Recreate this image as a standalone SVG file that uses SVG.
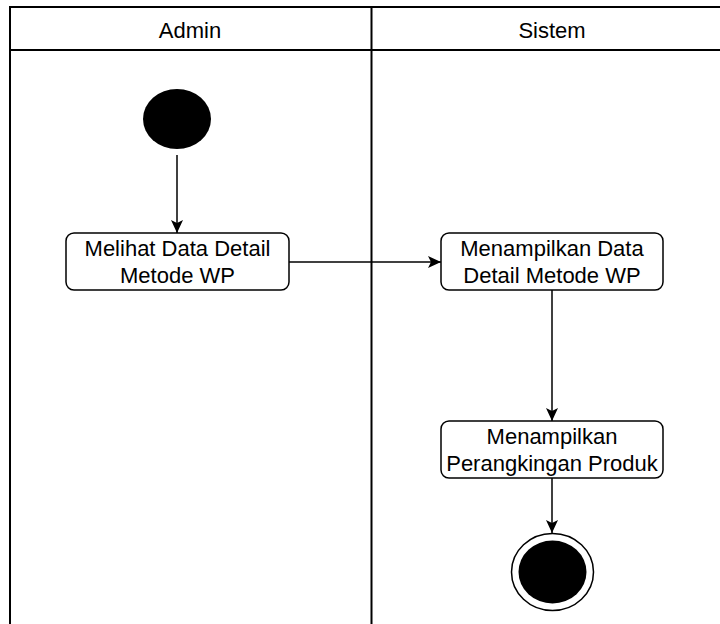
<svg xmlns="http://www.w3.org/2000/svg" width="720" height="624" viewBox="0 0 720 624">
  <style>
    .lane { fill: none; stroke: #000; stroke-width: 2; }
    .label { font-family: "Liberation Sans", Arial, sans-serif; font-size: 22px; fill: #000; text-anchor: middle; }
    .action { fill: #fff; stroke: #000; stroke-width: 1.5; }
    .edge { fill: none; stroke: #000; stroke-width: 1.5; }
  </style>
  <defs>
    <marker id="arrow" viewBox="0 0 14 14" refX="13" refY="7" markerWidth="14" markerHeight="14" markerUnits="userSpaceOnUse" orient="auto">
      <path d="M0,1 L13,7 L0,13 L3,7 Z" fill="#000"/>
    </marker>
  </defs>
  <rect width="720" height="624" fill="#fff"/>

  <!-- swimlanes -->
  <g id="lanes">
    <rect class="lane" x="10" y="7" width="740" height="640"/>
    <line class="lane" x1="10" y1="50" x2="730" y2="50"/>
    <line class="lane" x1="371.5" y1="7" x2="371.5" y2="630"/>
    <text class="label" x="190" y="38">Admin</text>
    <text class="label" x="552" y="38">Sistem</text>
  </g>

  <!-- connectors -->
  <g id="connectors">
    <line class="edge" x1="177" y1="155" x2="177" y2="233" marker-end="url(#arrow)"/>
    <line class="edge" x1="289" y1="262" x2="441" y2="262" marker-end="url(#arrow)"/>
    <line class="edge" x1="552" y1="290" x2="552" y2="421" marker-end="url(#arrow)"/>
    <line class="edge" x1="552" y1="478" x2="552" y2="533" marker-end="url(#arrow)"/>
  </g>

  <g id="start">
    <ellipse cx="177" cy="119" rx="34" ry="30" fill="#000"/>
  </g>

  <g id="melihat-data">
    <rect class="action" x="66" y="233" width="223" height="57" rx="8"/>
    <text class="label" x="177.5" y="256">Melihat Data Detail</text>
    <text class="label" x="177.5" y="283">Metode WP</text>
  </g>

  <g id="menampilkan-data">
    <rect class="action" x="441" y="233" width="222" height="57" rx="8"/>
    <text class="label" x="552" y="256">Menampilkan Data</text>
    <text class="label" x="552" y="283">Detail Metode WP</text>
  </g>

  <g id="menampilkan-perangkingan">
    <rect class="action" x="441" y="421" width="222" height="57" rx="8"/>
    <text class="label" x="552" y="444">Menampilkan</text>
    <text class="label" x="552" y="471">Perangkingan Produk</text>
  </g>

  <g id="end">
    <ellipse cx="552.5" cy="572" rx="41" ry="38.5" fill="#fff" stroke="#000" stroke-width="1.5"/>
    <ellipse cx="552.5" cy="572" rx="34" ry="31.5" fill="#000"/>
  </g>
</svg>
